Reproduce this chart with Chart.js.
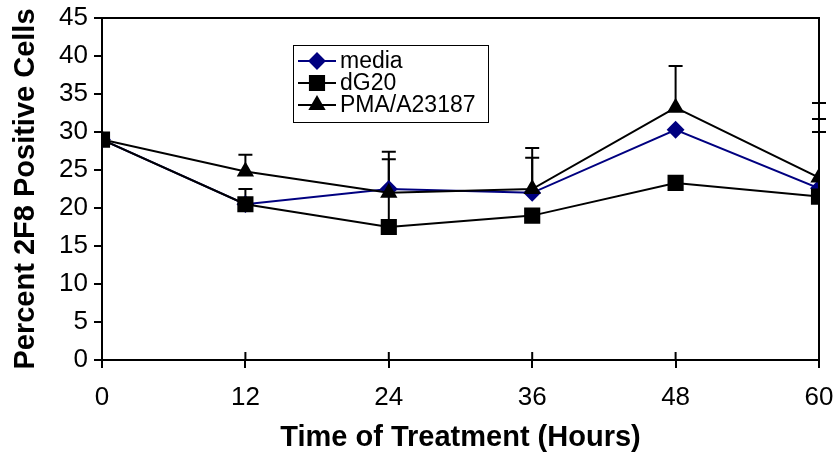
<!DOCTYPE html>
<html>
<head>
<meta charset="utf-8">
<script src="https://cdn.jsdelivr.net/npm/chart.js@4.4.0/dist/chart.umd.min.js"></script>
<style>
  html, body { margin: 0; padding: 0; background: #fff; }
  #wrap { width: 836px; height: 459px; }
</style>
</head>
<body>
<div id="wrap"><canvas id="myChart" width="836" height="459"></canvas></div>
<script>
// data
var hours = [0, 12, 24, 36, 48, 60];
var media = [29, 20.5, 22.5, 22, 30.3, 22.6];
var dG20 = [29, 20.5, 17.5, 19, 23.3, 21.5];
var pma = [29, 24.8, 22, 22.5, 33.2, 24];
// plus-only error bars
var mediaErr = [0, 0, 4.9, 5.9, 0, 9.1];
var dG20Err = [0, 2, 8.9, 0, 0, 8.5];
var pmaErr = [0, 2.2, 0, 4.1, 5.5, 9.8];
var seriesNames = ['media', 'dG20', 'PMA/A23187'];

var FONT = "'Liberation Sans', Arial, sans-serif";

function toPoints(ys) {
  return hours.map((h, i) => ({ x: h, y: ys[i] }));
}

// error bars drawn behind the markers
var errorBars = {
  id: 'errorBars',
  beforeDatasetsDraw(chart) {
    var ctx = chart.ctx;
    var xs = chart.scales.x, ys = chart.scales.y;
    ctx.save();
    ctx.strokeStyle = '#000';
    ctx.lineWidth = 2;
    chart.data.datasets.forEach(ds => {
      ds.errors.forEach((e, i) => {
        if (!e) return;
        var px = xs.getPixelForValue(hours[i]);
        var y0 = ys.getPixelForValue(ds.data[i].y);
        var y1 = ys.getPixelForValue(ds.data[i].y + e);
        ctx.beginPath();
        ctx.moveTo(px, y0);
        ctx.lineTo(px, y1);
        ctx.moveTo(px - 7, y1);
        ctx.lineTo(px + 7, y1);
        ctx.stroke();
      });
    });
    ctx.restore();
  }
};

// box round the plot area, inner half of the x tick marks, and the legend
var frameAndLegend = {
  id: 'frameAndLegend',
  afterDraw(chart) {
    var ctx = chart.ctx;
    var a = chart.chartArea;
    var xs = chart.scales.x;
    ctx.save();
    ctx.strokeStyle = '#000';
    ctx.lineWidth = 2;
    ctx.beginPath();
    ctx.moveTo(a.left, a.top);
    ctx.lineTo(a.right, a.top);
    ctx.lineTo(a.right, a.bottom);
    ctx.stroke();
    xs.ticks.forEach(t => {
      var px = xs.getPixelForValue(t.value);
      ctx.beginPath();
      ctx.moveTo(px, a.bottom);
      ctx.lineTo(px, a.bottom - 8);
      ctx.stroke();
    });

    // legend
    ctx.fillStyle = '#fff';
    ctx.fillRect(293, 45, 195, 77);
    ctx.lineWidth = 1;
    ctx.strokeStyle = '#000';
    ctx.strokeRect(293.5, 45.5, 195, 77);
    ctx.font = '23px ' + FONT;
    ctx.textBaseline = 'middle';
    chart.data.datasets.forEach((ds, i) => {
      var y = 61 + i * 22;
      ctx.strokeStyle = ds.borderColor;
      ctx.lineWidth = 2;
      ctx.beginPath();
      ctx.moveTo(298, y);
      ctx.lineTo(336, y);
      ctx.stroke();
      ctx.fillStyle = ds.pointBackgroundColor;
      ctx.strokeStyle = ds.pointBorderColor;
      Chart.helpers.drawPoint(ctx, {
        pointStyle: ds.pointStyle, radius: ds.pointRadius, borderWidth: 1, rotation: 0
      }, 317, y);
      ctx.fillStyle = '#000';
      ctx.fillText(ds.label, 340, y + 1);
    });
    ctx.restore();
  }
};

var ctx = document.getElementById('myChart').getContext('2d');
var myChart = new Chart(ctx, {
  type: 'line',
  data: {
    datasets: [
      {
        label: seriesNames[0], data: toPoints(media), errors: mediaErr,
        borderColor: '#000080', borderWidth: 2,
        pointStyle: 'rectRot', pointRadius: 7.5,
        pointBackgroundColor: '#000080', pointBorderColor: '#000080',
        order: 2
      },
      {
        label: seriesNames[1], data: toPoints(dG20), errors: dG20Err,
        borderColor: '#000', borderWidth: 2,
        pointStyle: 'rect', pointRadius: 10,
        pointBackgroundColor: '#000', pointBorderColor: '#000',
        order: 1
      },
      {
        label: seriesNames[2], data: toPoints(pma), errors: pmaErr,
        borderColor: '#000', borderWidth: 2,
        pointStyle: 'triangle', pointRadius: 8,
        pointBackgroundColor: '#000', pointBorderColor: '#000',
        order: 0
      }
    ]
  },
  options: {
    responsive: false,
    animation: false,
    devicePixelRatio: 1,
    layout: { padding: { top: 18, right: 17, left: 0, bottom: 0 } },
    plugins: { legend: { display: false }, tooltip: { enabled: false } },
    elements: { line: { tension: 0 }, point: { borderWidth: 1 } },
    scales: {
      x: {
        type: 'linear', min: 0, max: 60,
        ticks: { stepSize: 12, color: '#000', padding: 14, font: { family: FONT, size: 26 } },
        grid: { drawOnChartArea: false, tickLength: 8, color: '#000', lineWidth: 2 },
        border: { color: '#000', width: 2 },
        title: {
          display: true, text: 'Time of Treatment (Hours)', color: '#000',
          font: { family: FONT, size: 29, weight: 'bold' }, padding: { top: 0, bottom: 4 }
        },
        afterFit(scale) {
          scale.height = 99;
          scale.paddingLeft = 0;
          scale.paddingRight = 0;
        }
      },
      y: {
        min: 0, max: 45,
        ticks: { stepSize: 5, color: '#000', padding: 6, font: { family: FONT, size: 26 } },
        grid: { drawOnChartArea: false, tickLength: 8, color: '#000', lineWidth: 2 },
        border: { color: '#000', width: 2 },
        title: {
          display: true, text: 'Percent 2F8 Positive Cells', color: '#000',
          font: { family: FONT, size: 29, weight: 'bold' }, padding: { top: 9, bottom: 0 }
        },
        afterFit(scale) {
          scale.width = 102;
          scale.paddingTop = 0;
          scale.paddingBottom = 0;
        }
      }
    }
  },
  plugins: [errorBars, frameAndLegend]
});
</script>
</body>
</html>
